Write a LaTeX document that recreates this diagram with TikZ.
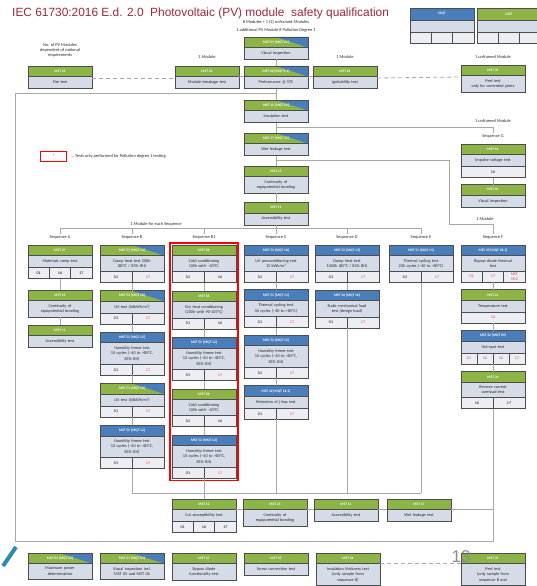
\documentclass[tikz,border=0pt]{standalone}
\usepackage{fontspec}
\setmainfont{Carlito}
\newfontfamily\titlefont{Liberation Sans}
\usetikzlibrary{positioning,calc,fit}

\definecolor{mstg}{HTML}{8DB446}
\definecolor{mqtb}{HTML}{4A7EBB}
\definecolor{bodyc}{HTML}{D6DBE8}
\definecolor{cellc}{HTML}{ECEEF4}
\definecolor{boxline}{HTML}{4D4D4D}
\definecolor{linec}{HTML}{A8A8A8}
\definecolor{titlered}{HTML}{A0283C}
\definecolor{pdred}{HTML}{E53A4E}
\definecolor{slide}{HTML}{2C8BB0}

% test box: coloured header + body
\newcommand{\testbox}[5]{%
  \node[#3, #2] (#1h) {#4};
  \node[body, below=0pt of #1h] (#1) {#5};
  \coordinate (#1c) at (#1.south);
}
% row of result cells under a test box
\newcommand{\cells}[3]{%
  \node[cellrow, below=0pt of #1] (#1c) {};
  \foreach [count=\k] \lab/\col in {#3}
    \node[cell, text=\col] at ($(#1c.west)+({(\k-0.5)*64/#2},0)$) {\lab};
  \ifnum#2>1\relax
    \pgfmathtruncatemacro\lastk{#2-1}
    \foreach \k in {1,...,\lastk}
      \draw[boxline, line width=0.6pt] ($(#1c.north west)+({\k*64/#2},0)$) -- ($(#1c.south west)+({\k*64/#2},0)$);
  \fi
}

\begin{document}
\begin{tikzpicture}[x=1pt, y=-1pt,
  hd/.style={minimum width=64pt, minimum height=10.5pt, inner sep=0pt, outer sep=0pt,
    draw=boxline, line width=0.6pt, text=white, font=\fontsize{3.6}{4}\selectfont\bfseries},
  mst/.style={hd, fill=mstg},
  mqt/.style={hd, fill=mqtb},
  both/.style={hd, fill=mstg, path picture={\fill[mqtb]
    ($(path picture bounding box.north west)!0.5!(path picture bounding box.north east)$)
    -- (path picture bounding box.north east) -- (path picture bounding box.south east) -- cycle;}},
  body/.style={text width=62pt, inner xsep=1pt, inner ysep=3.6pt, minimum height=12pt, outer sep=0pt,
    draw=boxline, line width=0.6pt, fill=bodyc, align=center, text=black!85,
    font=\fontsize{4.2}{5.5}\selectfont},
  cellrow/.style={minimum width=64pt, minimum height=11pt, inner sep=0pt, outer sep=0pt,
    draw=boxline, line width=0.6pt, fill=cellc},
  cell/.style={inner sep=0pt, align=center, font=\fontsize{4}{4.2}\selectfont},
  lbl/.style={inner sep=1pt, align=center, text=black!85, font=\fontsize{4.4}{5}\selectfont},
  link/.style={draw=linec, line width=0.8pt},
  dashlink/.style={draw=linec, line width=0.8pt, dash pattern=on 4pt off 3pt}]

\fill[white] (0,0) rectangle (537,586);
\useasboundingbox (0,0) rectangle (537,586);

% title
\node[anchor=west, inner sep=0pt, text=titlered, font=\titlefont\fontsize{11.9}{13}\selectfont] (title) at (12,13)
  {IEC 61730:2016 E.d. 2.0~~Photovoltaic (PV) module~~safety qualification};
\node[lbl, font=\fontsize{4.4}{7.6}\selectfont] (mods) at (276,26) {8 Modules + 1 (2) unframed Modules\\1 additional PV Module if Pollution Degree 1};

% legend
\testbox{legq}{at={(442,8)}, anchor=north, minimum height=12pt}{mqt}{MQT}{}
\cells{legq}{3}{/black,/black,/black}
\testbox{legs}{right=3pt of legqh, minimum height=12pt}{mst}{MST}{}
\cells{legs}{3}{/black,/black,/black}

% top block
\testbox{vis}{at={(276,37)}, anchor=north}{both}{MST 01 [MQT 01]}{Visual inspection}
\testbox{perf}{below=6.5pt of visc}{both}{MST 02 [MQT 6.1]}{Performance @ STC}
\testbox{brk}{left=5pt of perfh}{mst}{MST 32}{Module breakage test}
\testbox{ign}{right=5pt of perfh}{mst}{MST 24}{Ignitability test}
\testbox{fire}{at={(60,66)}, anchor=north}{mst}{MST 23}{Fire test}
\testbox{peel}{at={(493,65)}, anchor=north}{mst}{MST 35}{Peel test\\only for cemented joints}
\testbox{ins}{below=11.5pt of perfc}{both}{MST 16 [MQT 03]}{Insulation test}
\testbox{wet}{below=10.5pt of insc}{both}{MST 17 [MQT 15]}{Wet leakage test}
\testbox{cont}{below=10.5pt of wetc}{mst}{MST 13}{Continuity of\\equipotential bonding}
\testbox{acc}{below=9.5pt of contc}{mst}{MST 11}{Accessibility test}

\node[lbl] (nofm) at (60,50) {No. of PV Modules\\dependent of national\\requirements};
\node[lbl] (oneL) at (207,57) {1 Module};
\node[lbl] (oneR) at (345,57) {1 Module};
\node[lbl] (unfrT) at (493,57) {1 unframed Module};

% pollution degree key
\node[draw=red, line width=1pt, minimum width=26pt, minimum height=10pt, inner sep=0pt,
  font=\fontsize{4}{4}\selectfont] (pdkey) at (53.5,156) {*};
\node[lbl, anchor=west] (pdnote) at (70,156) {\dots\ Tests only performed for Pollution degree 1 testing.};

% sequence G
\node[lbl] (unfrG) at (493,121) {1 unframed Module};
\node[lbl] (seqG) at (493,136) {Sequence G};
\testbox{impulse}{at={(493,144)}, anchor=north}{mst}{MST 14}{Impulse voltage test}
\cells{impulse}{1}{16/black}
\testbox{visG}{below=7pt of impulsec}{mst}{MST 01}{Visual inspection}

% sequence labels
\node[lbl] (each) at (156,224.5) {1 Module for each Sequence};
\node[lbl] (seqA) at (60,237) {Sequence A};
\node[lbl] (seqB) at (132,237) {Sequence B};
\node[lbl] (seqB1) at (204,237) {Sequence B1};
\node[lbl] (seqC) at (276,237) {Sequence C};
\node[lbl] (seqD) at (347,237) {Sequence D};
\node[lbl] (seqE) at (421,237) {Sequence E};
\node[lbl] (oneF) at (485,219) {1 Module};
\node[lbl] (seqF) at (493,237) {Sequence F};

% sequence A
\testbox{creep}{at={(60,245)}, anchor=north}{mst}{MST 37}{Materials creep test}
\cells{creep}{3}{01/black,16/black,17/black}
\testbox{contA}{below=11.5pt of creepc}{mst}{MST 13}{Continuity of\\equipotential bonding}
\testbox{accA}{below=8pt of contAc}{mst}{MST 11}{Accessibility test}

% sequence B
\testbox{dh200}{at={(132,245)}, anchor=north}{both}{MST 53 [MQT 13]}{Damp heat test 200h\\(85°C / 85\% RH)}
\cells{dh200}{2}{01/black,17/pdred}
\testbox{uv60}{below=8pt of dh200c}{both}{MST 54 [MQT 10]}{UV test (60kWh/m²)}
\cells{uv60}{2}{01/black,17/pdred}
\testbox{hf10}{below=8pt of uv60c}{mqt}{MST 52 [MQT 12]}{Humidity freeze test\\10 cycles (–40 to +85°C,\\85\% RH)}
\cells{hf10}{2}{01/black,17/pdred}
\testbox{uv60b}{below=8pt of hf10c}{both}{MST 54 [MQT 10]}{UV test (60kWh/m²)}
\cells{uv60b}{2}{01/black,17/pdred}
\testbox{hf10b}{below=8.5pt of uv60bc}{mqt}{MST 52 [MQT 12]}{Humidity freeze test\\10 cycles (–40 to +85°C,\\85\% RH)}
\cells{hf10b}{2}{01/black,17/pdred}

% sequence B1
\testbox{cold}{at={(204,245)}, anchor=north}{mst}{MST 56}{Cold conditioning\\(48h with –40°C)}
\cells{cold}{2}{01/black,16/black}
\testbox{dry}{below=8.5pt of coldc}{mst}{MST 56}{Dry heat conditioning\\(200h with 90-105°C)}
\cells{dry}{2}{01/black,16/black}
\testbox{hfb1}{below=8.5pt of dryc}{mqt}{MST 52 [MQT 12]}{Humidity freeze test\\10 cycles (–40 to +85°C,\\85\% RH)}
\cells{hfb1}{2}{01/black,17/pdred}
\testbox{coldb}{below=8.5pt of hfb1c}{mst}{MST 56}{Cold conditioning\\(48h with –40°C)}
\cells{coldb}{2}{01/black,16/black}
\testbox{hfb1b}{below=8.5pt of coldbc}{mqt}{MST 52 [MQT 12]}{Humidity freeze test\\10 cycles (–40 to +85°C,\\85\% RH)}
\cells{hfb1b}{2}{01/black,17/pdred}
\node[draw=red, line width=1.3pt, inner sep=2pt, fit=(coldh) (hfb1bc)] (redframe) {};

% sequence C
\testbox{uv15}{at={(276,245)}, anchor=north}{mqt}{MST 54 [MQT 10]}{UV preconditioning test\\15 kWh/m²}
\cells{uv15}{2}{01/black,17/pdred}
\testbox{tc50}{below=7.5pt of uv15c}{mqt}{MST 51 [MQT 11]}{Thermal cycling test\\50 cycles (–40 to +85°C)}
\cells{tc50}{2}{01/black,17/pdred}
\testbox{hfc}{below=7.5pt of tc50c}{mqt}{MST 52 [MQT 12]}{Humidity freeze test\\10 cycles (–40 to +85°C,\\85\% RH)}
\cells{hfc}{2}{01/black,17/pdred}
\testbox{jbox}{below=7.5pt of hfcc}{mqt}{MST 42 [MQT 14.1]}{Retention of j-box test}
\cells{jbox}{2}{01/black,17/pdred}

% sequence D
\testbox{dh1000}{at={(347,245)}, anchor=north}{mqt}{MST 53 [MQT 13]}{Damp heat test\\1000h (85°C / 85\% RH)}
\cells{dh1000}{2}{01/black,17/pdred}
\testbox{sml}{below=7.5pt of dh1000c}{mqt}{MST 34 [MQT 16]}{Static mechanical load\\test (design load)}
\cells{sml}{2}{01/black,17/pdred}

% sequence E
\testbox{tc200}{at={(421,245)}, anchor=north}{mqt}{MST 51 [MQT 11]}{Thermal cycling test\\200 cycles (–40 to +85°C)}
\cells{tc200}{2}{01/black,17/pdred}

% sequence F
\testbox{bdt}{at={(493,245)}, anchor=north}{mqt}{MST 25 [MQT 18.1]}{Bypass diode thermal\\test}
\cells{bdt}{3}{01/pdred,17/pdred,MST\\18.2/pdred}
\testbox{temp}{below=7.5pt of bdtc}{mst}{MST 21}{Temperature test}
\cells{temp}{1}{16/pdred}
\testbox{hotspot}{below=7.5pt of tempc}{mqt}{MST 22 [MQT 09]}{Hot-spot test}
\cells{hotspot}{4}{01/pdred,16/pdred,16/pdred,17/pdred}
\testbox{revc}{below=7.5pt of hotspotc}{mst}{MST 26}{Reverse current\\overload test}
\cells{revc}{2}{16/black,17/black}

% final tests inside the loop
\testbox{cut}{at={(204,499)}, anchor=north}{mst}{MST 12}{Cut susceptibility test}
\cells{cut}{3}{01/black,16/black,17/black}
\testbox{contZ}{right=7pt of cuth}{mst}{MST 13}{Continuity of\\equipotential bonding}
\testbox{accZ}{right=7pt of contZh}{mst}{MST 11}{Accessibility test}
\testbox{wett}{right=9pt of accZh}{mst}{MST 17}{Wet leakage test}

% bottom row
\testbox{pmax}{at={(60,553)}, anchor=north}{both}{MST 03 [MQT 02]}{Maximum power\\determination}
\testbox{visZ}{right=8pt of pmaxh}{both}{MST 01 [MQT 01]}{Visual inspection incl.\\MST 05 and MST 06}
\testbox{bypass}{right=8pt of visZh}{mst}{MST 07}{Bypass diode\\functionality test}
\testbox{screw}{right=8pt of bypassh}{mst}{MST 33}{Screw connection test}
\testbox{thick}{right=8pt of screwh}{mst}{MST 04}{Insulation thickness test\\(only sample from\\sequence B)}
\testbox{peelZ}{at={(493,553)}, anchor=north}{mst}{MST 35}{Peel test\\(only sample from\\sequence B and}

% connectors, top block
\draw[link] (vis) -- (perfh);
\draw[link] (brkh.south east) -- (perfh.south west);
\draw[link] (perfh.south east) -- (ignh.south west);
\draw[dashlink] ($(fire.north east)+(0,1.5)$) -- ($(brk.north west)+(0,1.5)$);
\draw[dashlink] ($(ign.north east)+(0,1.5)$) -- ($(peel.north west)+(0,1.5)$);
\draw[link] (perf) -- (insh);
\coordinate (jL) at ($(perf.south)!0.4!(insh.north)$);
\coordinate (bl) at (15,541);
\coordinate (br) at (493,541);
\draw[link] (jL) -| (bl) -- (br) -- (revcc);
\draw[link] (ins) -- (weth);
\coordinate (jG) at ($(ins.south)!0.45!(weth.north)$);
\draw[link] (jG) -| (seqG);
\draw[link] (impulsec) -- (visGh);
\draw[link] (wet) -- (conth);
\coordinate (jF) at ($(wet.south)!0.5!(conth.north)$);
\coordinate (kF) at (449,224);
\draw[link] (jF) -| (kF) -| (seqF);
\draw[link] (cont) -- (acch);

% split into the sequences
\coordinate (sA) at (60,228);
\coordinate (sE) at (421,228);
\draw[link] (sA) -- (sE);
\draw[link] (acc) -- (acc |- sA);
\foreach \s in {seqA,seqB,seqB1,seqC,seqD,seqE}
  \draw[link] (\s |- sA) -- (\s);

% inside the sequences
\draw[link] (creepc) -- (contAh);
\draw[link] (contA) -- (accAh);
\draw[link] (dh200c) -- (uv60h);
\draw[link] (uv60c) -- (hf10h);
\draw[link] (hf10c) -- (uv60bh);
\draw[link] (uv60bc) -- (hf10bh);
\draw[link] (coldc) -- (dryh);
\draw[link] (dryc) -- (hfb1h);
\draw[link] (hfb1c) -- (coldbh);
\draw[link] (coldbc) -- (hfb1bh);
\draw[link] (uv15c) -- (tc50h);
\draw[link] (tc50c) -- (hfch);
\draw[link] (hfcc) -- (jboxh);
\draw[link] (dh1000c) -- (smlh);
\draw[link] (bdtc) -- (temph);
\draw[link] (tempc) -- (hotspoth);
\draw[link] (hotspotc) -- (revch);

% collecting the sequences
\coordinate (cE) at (421,493);
\draw[link] (hf10bc) |- (cE);
\foreach \b in {jboxc,smlc,tc200c}
  \draw[link] (\b) -- (\b |- cE);
\draw[link] (hfb1bc) -- (cuth);
\draw[link] (cuth.south east) -- (contZh.south west);
\draw[link] (contZh.south east) -- (accZh.south west);
\draw[link] (accZh.south east) -- (wetth.south west);
\draw[link] (wetth.south east) -- (wetth.south east -| br);

% bottom row
\draw[dashlink] (thickh.south east) -- (peelZh.south west);
\node[text=black!45, inner sep=0pt, font=\titlefont\fontsize{17}{17}\selectfont] (pgno) at (461,557) {13};
\draw[slide, line width=4pt] (16,547) -- (3,566);

\end{tikzpicture}
\end{document}
